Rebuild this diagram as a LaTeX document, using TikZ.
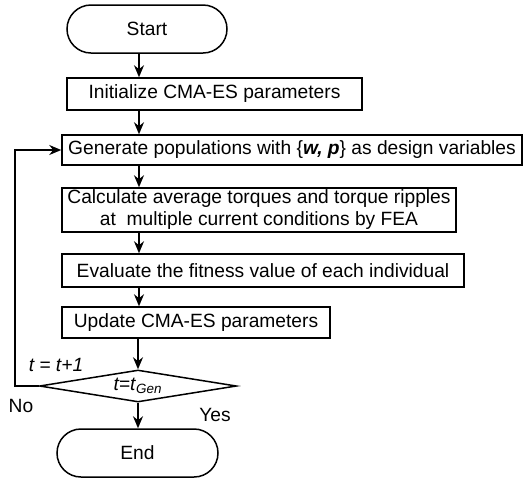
\documentclass[tikz,border=0pt]{standalone}
\usepackage{fontspec}
\setmainfont{Liberation Sans}
\usetikzlibrary{arrows.meta,shapes.misc,shapes.geometric}

\begin{document}
\begin{tikzpicture}[x=0.5pt, y=-0.5pt,
    every node/.style={font=\fontsize{9.6}{11}\selectfont, inner sep=0pt},
    step box/.style={draw, line width=0.75pt, minimum height=16pt},
    terminal/.style={draw, line width=0.75pt, rounded rectangle, minimum width=80pt, minimum height=24pt},
    decision/.style={draw, line width=0.75pt, diamond, aspect=6, minimum width=98.5pt, minimum height=16pt},
    flow/.style={line width=0.75pt, -{Stealth[length=6pt, width=5pt]}}]
  \useasboundingbox (0,0) rectangle (524,478);
  % the column that the arrows run down
  \coordinate (axis) at (139,0);
  \coordinate (back) at (15,0);

  \node[terminal] (start) at (147,29) {Start};
  \node[step box, minimum width=147.5pt] (init) at (214.5,94) {Initialize CMA-ES parameters};
  \node[step box, minimum width=230pt, minimum height=15pt] (gen) at (292,150)
    {Generate populations with \{\textbf{\textit{w, p}}\} as design variables};
  \node[step box, minimum width=197pt, minimum height=22pt, align=center] (calc) at (259,210)
    {Calculate average torques and torque ripples\\at~ multiple current conditions by FEA};
  \node[step box, minimum width=201pt, minimum height=16.5pt] (eval) at (263,270.5)
    {Evaluate the fitness value of each individual};
  \node[step box, minimum width=134pt, minimum height=15.5pt] (update) at (196,322.5)
    {Update CMA-ES parameters};
  \node[decision] (test) at (138,386) {\textit{t=t}\textsubscript{\textit{Gen}}};
  \node[terminal, minimum width=80.5pt] (end) at (137.5,453) {End};

  % labels round the decision
  \node (inc) at (56,365) {\textit{t = t+1}};
  \node (no) at (21,406) {No};
  \node (yes) at (215,415) {Yes};

  \draw[flow] (start.south -| axis) -- (init.north -| axis);
  \draw[flow] (init.south -| axis) -- (gen.north -| axis);
  \draw[flow] (gen.south -| axis) -- (calc.north -| axis);
  \draw[flow] (calc.south -| axis) -- (eval.north -| axis);
  \draw[flow] (eval.south -| axis) -- (update.north -| axis);
  \draw[flow] (update.south -| test) -- (test.north);
  \draw[flow] (test.south) -- (end.north -| test);
  % back to a new generation
  \draw[flow] (test.west) -- (test.west -| back) |- (gen.west);
\end{tikzpicture}
\end{document}
